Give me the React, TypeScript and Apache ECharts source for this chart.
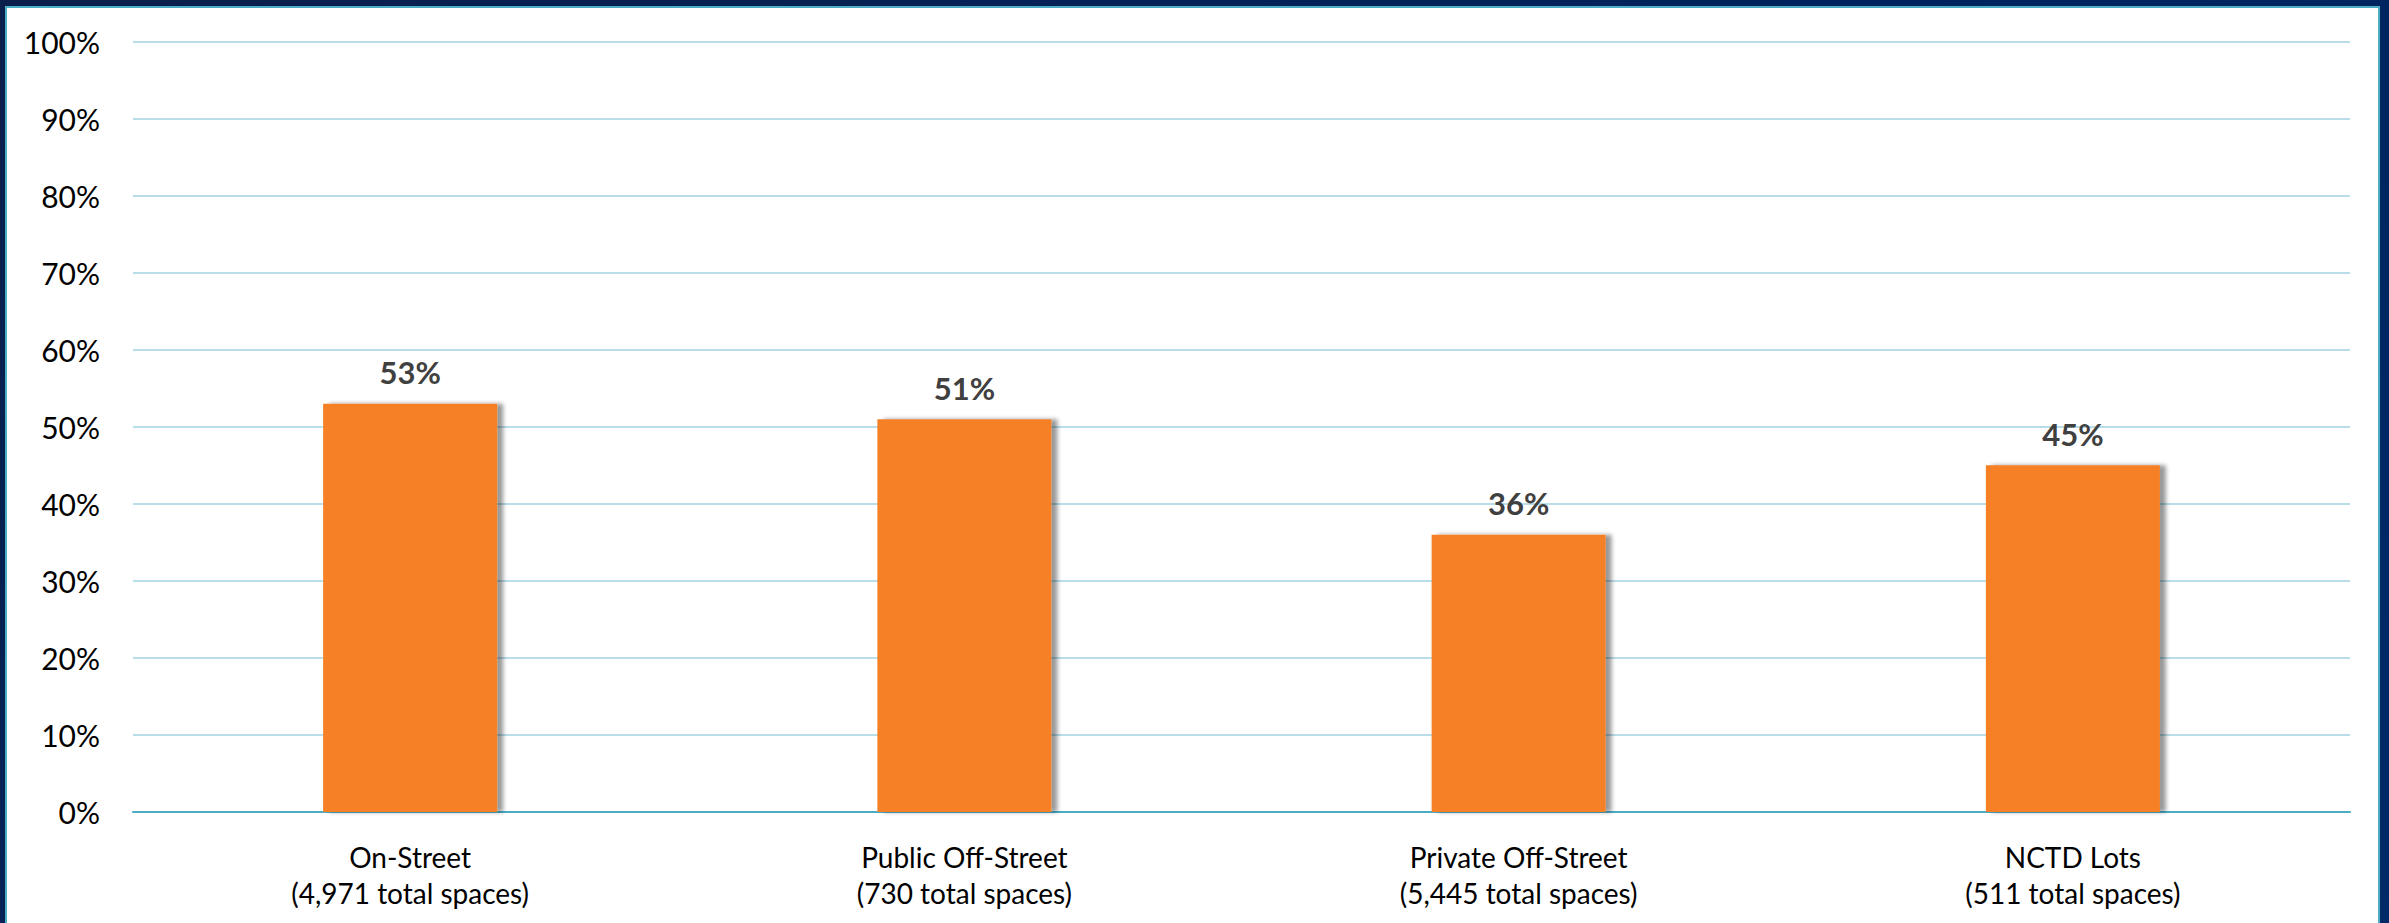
import React, { useEffect, useRef } from "react";
import * as echarts from "echarts";

const categories = [
  "On-Street\n(4,971 total spaces)",
  "Public Off-Street\n(730 total spaces)",
  "Private Off-Street\n(5,445 total spaces)",
  "NCTD Lots\n(511 total spaces)",
];
const occupancy = [53, 51, 36, 45];
const yTicks = { min: 0, max: 100, interval: 10 };

export default function App() {
  const ref = useRef<HTMLDivElement>(null);
  useEffect(() => {
    document.body.style.margin = "0";
    const chart = echarts.init(ref.current!, null, { renderer: "svg" });
    chart.setOption({
      animation: false,
      grid: { left: 133, right: 39, top: 41.7, bottom: 111, containLabel: false },
      xAxis: {
        type: "category",
        data: categories,
        axisLine: { show: true, lineStyle: { color: "#4BACC6", width: 2 } },
        axisTick: { show: false },
        axisLabel: {
          color: "#000000",
          fontFamily: "Lato",
          fontSize: 28,
          lineHeight: 36,
          margin: 27,
        },
      },
      yAxis: {
        type: "value",
        min: yTicks.min,
        max: yTicks.max,
        interval: yTicks.interval,
        axisLine: { show: false },
        axisTick: { show: false },
        splitLine: { lineStyle: { color: "#B9DDE9", width: 2 } },
        axisLabel: {
          color: "#000000",
          fontFamily: "Lato",
          fontSize: 30,
          margin: 33,
          formatter: (v: number) => v + "%",
        },
      },
      series: [
        {
          type: "bar",
          data: occupancy,
          barWidth: 174,
          itemStyle: {
            color: "#F58026",
            shadowColor: "rgba(0,0,0,0.4)",
            shadowBlur: 4,
            shadowOffsetX: 6,
            shadowOffsetY: 0,
          },
          label: {
            show: true,
            position: "top",
            distance: 16,
            color: "#404040",
            fontFamily: "Lato",
            fontWeight: "bold",
            fontSize: 31,
            formatter: (p: any) => p.value + "%",
          },
        },
      ],
    });
    return () => chart.dispose();
  }, []);

  return (
    <div
      style={{
        position: "absolute",
        left: 0,
        top: 0,
        width: 2389,
        height: 923,
        overflow: "hidden",
        background: "linear-gradient(135deg, #0b1f4c 0%, #00245f 60%, #012a66 100%)",
      }}
    >
      <div
        style={{
          position: "absolute",
          left: 5,
          top: 6,
          width: 2371,
          height: 940,
          background: "#ffffff",
          border: "2px solid #4BACC6",
        }}
      />
      <div
        ref={ref}
        style={{ position: "absolute", left: 0, top: 0, width: 2389, height: 923 }}
      />
    </div>
  );
}
